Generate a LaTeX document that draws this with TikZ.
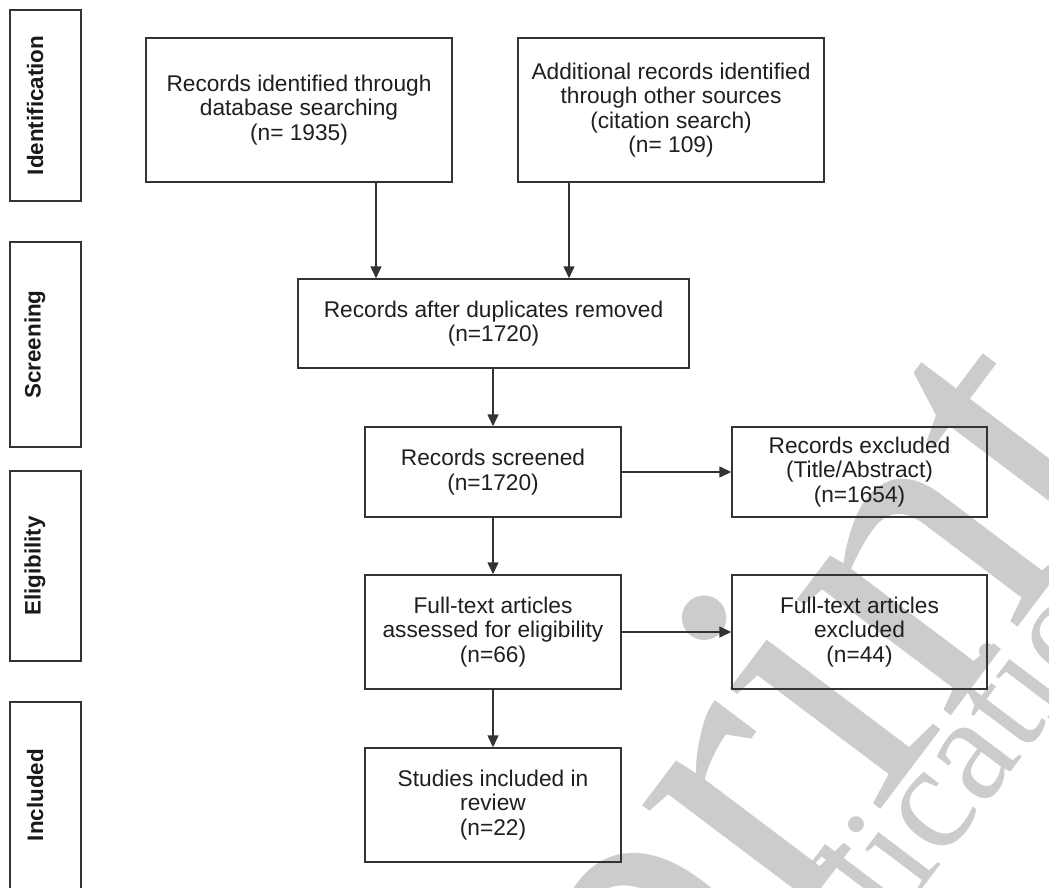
\documentclass[tikz,border=0pt]{standalone}
\usepackage{fontspec}
\setmainfont{Liberation Sans}
\newfontfamily\wmfont{Liberation Serif}
\usetikzlibrary{arrows.meta}
\tikzset{
  box/.style={draw=black!80, line width=1.5pt, inner sep=0pt, align=center,
    text=black!88, font=\fontsize{22.7}{24.5}\selectfont},
  phase/.style={draw=black!80, line width=1.5pt, inner sep=0pt, minimum width=71pt},
  phasetxt/.style={rotate=90, inner sep=0pt, text=black!90, font=\bfseries\fontsize{22.4}{24}\selectfont},
  arr/.style={draw=black!80, line width=1.5pt, -{Triangle[length=12pt,width=11pt]}},
  wm/.style={rotate=53, anchor=base west, inner sep=0pt, text=black!20}
}
\begin{document}
\begin{tikzpicture}[x=1pt,y=1pt]
\useasboundingbox (0,0) rectangle (1049,-888);
\fill[white] (0,0) rectangle (1049,-888);
\begin{scope}
\clip (0,0) rectangle (1049,-888);
% watermark
\node[wm, font=\wmfont\fontsize{420}{420}\selectfont] (wm1) at (328,-1543) {Preprint};
\node[wm, font=\wmfont\fontsize{150}{150}\selectfont] (wm2) at (524,-1418) {JMIR Publications};
% phase boxes
\node[phase, minimum height=191pt] (pid) at (45.5,-105.5) {};
\node[phase, minimum height=205pt] (psc) at (45.5,-344.5) {};
\node[phase, minimum height=190pt] (pel) at (45.5,-566) {};
\node[phase, minimum height=200pt] (pin) at (45.5,-802) {};
\end{scope}
\node[phasetxt] (tid) at (35,-105.5) {Identification};
\node[phasetxt] (tsc) at (35,-344.5) {Screening};
\node[phasetxt] (tel) at (35,-566) {Eligibility};
\node[phasetxt] (tin) at (35,-795) {Included};
% main boxes
\node[box, minimum width=306pt, minimum height=144pt] (id1) at (299,-110)
  {Records identified through\\database searching\\(n= 1935)};
\node[box, minimum width=306pt, minimum height=144pt] (id2) at (671,-110)
  {Additional records identified\\through other sources\\(citation search)\\(n= 109)};
\node[box, minimum width=391pt, minimum height=89pt] (dup) at (493.5,-323.5)
  {Records after duplicates removed\\(n=1720)};
\node[box, minimum width=256pt, minimum height=90pt] (scr) at (493,-472)
  {Records screened\\(n=1720)};
\node[box, minimum width=255pt, minimum height=90pt] (ex1) at (859.5,-472)
  {Records excluded\\(Title/Abstract)\\(n=1654)};
\node[box, minimum width=256pt, minimum height=114pt] (full) at (493,-632)
  {Full-text articles\\assessed for eligibility\\(n=66)};
\node[box, minimum width=255pt, minimum height=114pt] (ex2) at (859.5,-632)
  {Full-text articles\\excluded\\(n=44)};
\node[box, minimum width=256pt, minimum height=114pt] (inc) at (493,-805)
  {Studies included in\\review\\(n=22)};
% arrows
\coordinate (a1) at (376,0);
\coordinate (a2) at (569,0);
\draw[arr] (a1 |- id1.south) -- (a1 |- dup.north);
\draw[arr] (a2 |- id2.south) -- (a2 |- dup.north);
\draw[arr] (scr.north |- dup.south) -- (scr.north);
\draw[arr] (scr.east) -- (ex1.west);
\draw[arr] (scr.south) -- (full.north);
\draw[arr] (full.east) -- (ex2.west);
\draw[arr] (full.south) -- (inc.north);
\end{tikzpicture}
\end{document}
